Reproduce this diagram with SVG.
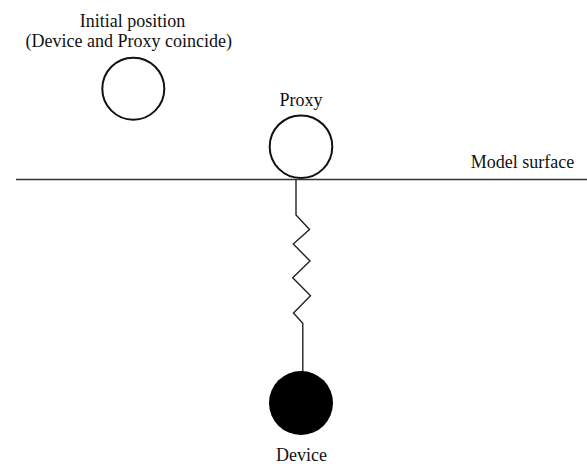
<svg xmlns="http://www.w3.org/2000/svg" width="587" height="464" viewBox="0 0 587 464">
<style>
.t{font-size:18px;fill:#111;text-anchor:middle}
.ring{fill:#fff;stroke:#111;stroke-width:2}
.conn{fill:none;stroke:#222;stroke-width:1.4;stroke-linejoin:miter}
</style>
<rect width="587" height="464" fill="#fff"/>
<g id="surface">
<line x1="16" y1="179.5" x2="587" y2="179.5" stroke="#333" stroke-width="1.4"/>
<text class="t" x="522.5" y="168" font-family="serif">Model surface</text>
</g>
<g id="initial">
<text class="t" x="132.5" y="27" font-family="serif">Initial position</text>
<text class="t" x="128.7" y="47" font-family="serif">(Device and Proxy coincide)</text>
<circle class="ring" cx="133.3" cy="88.7" r="31"/>
</g>
<g id="connectors">
<polyline class="conn" points="296,180 296,215 309.5,229.5 293.3,244 310,261 292.7,277.7 310.5,295.7 293.5,313 302.8,323.3 302.8,372"/>
</g>
<g id="proxy">
<text class="t" x="301" y="106" font-family="serif">Proxy</text>
<circle class="ring" cx="301" cy="146.7" r="31.3"/>
</g>
<g id="device">
<circle cx="301" cy="403" r="32" fill="#000"/>
<text class="t" x="301.5" y="461" font-family="serif">Device</text>
</g>
</svg>
